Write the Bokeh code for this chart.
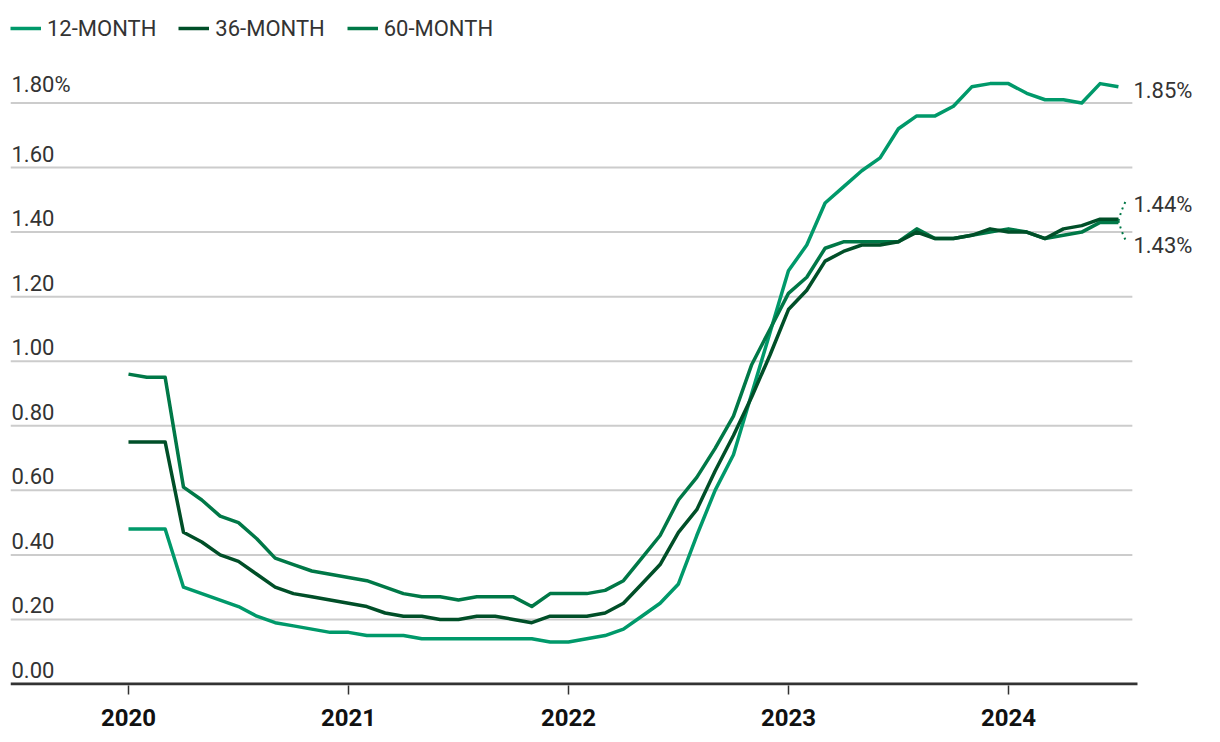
from bokeh.plotting import figure
from bokeh.models import (ColumnDataSource, FixedTicker, Range1d, Legend, LegendItem)
from bokeh.core.properties import value
from bokeh.embed import file_html
from bokeh.resources import INLINE

# ---- data (monthly, Jan 2020 .. Jul 2024) ----
months = list(range(55))
rate_12m = [0.48, 0.48, 0.48, 0.30, 0.28, 0.26, 0.24, 0.21, 0.19, 0.18,
            0.17, 0.16, 0.16, 0.15, 0.15, 0.15, 0.14, 0.14, 0.14, 0.14,
            0.14, 0.14, 0.14, 0.13, 0.13, 0.14, 0.15, 0.17, 0.21, 0.25,
            0.31, 0.46, 0.60, 0.71, 0.90, 1.09, 1.28, 1.36, 1.49, 1.54,
            1.59, 1.63, 1.72, 1.76, 1.76, 1.79, 1.85, 1.86, 1.86, 1.83,
            1.81, 1.81, 1.80, 1.86, 1.85]
rate_36m = [0.75, 0.75, 0.75, 0.47, 0.44, 0.40, 0.38, 0.34, 0.30, 0.28,
            0.27, 0.26, 0.25, 0.24, 0.22, 0.21, 0.21, 0.20, 0.20, 0.21,
            0.21, 0.20, 0.19, 0.21, 0.21, 0.21, 0.22, 0.25, 0.31, 0.37,
            0.47, 0.54, 0.66, 0.77, 0.89, 1.02, 1.16, 1.22, 1.31, 1.34,
            1.36, 1.36, 1.37, 1.40, 1.38, 1.38, 1.39, 1.41, 1.40, 1.40,
            1.38, 1.41, 1.42, 1.44, 1.44]
rate_60m = [0.96, 0.95, 0.95, 0.61, 0.57, 0.52, 0.50, 0.45, 0.39, 0.37,
            0.35, 0.34, 0.33, 0.32, 0.30, 0.28, 0.27, 0.27, 0.26, 0.27,
            0.27, 0.27, 0.24, 0.28, 0.28, 0.28, 0.29, 0.32, 0.39, 0.46,
            0.57, 0.64, 0.73, 0.83, 0.99, 1.10, 1.21, 1.26, 1.35, 1.37,
            1.37, 1.37, 1.37, 1.41, 1.38, 1.38, 1.39, 1.40, 1.41, 1.40,
            1.38, 1.39, 1.40, 1.43, 1.43]

series_names = ["12-MONTH", "36-MONTH", "60-MONTH"]
series_colors = ["#00996a", "#004f28", "#007847"]

year_ticks = [0, 12, 24, 36, 48]
year_labels = ["2020", "2021", "2022", "2023", "2024"]

y_ticks = [0.0, 0.2, 0.4, 0.6, 0.8, 1.0, 1.2, 1.4, 1.6, 1.8]
y_tick_labels = ["0.00", "0.20", "0.40", "0.60", "0.80", "1.00", "1.20", "1.40", "1.60", "1.80%"]

end_labels = ["1.85%", "1.44%", "1.43%"]

FONT = "Roboto"
TEXT_COLOR = "#333333"

# ---- layout constants ----
x_start, x_end = -6.436, 58.75       # frame spans the right-hand label area too
grid_end = 54.76                     # where grid lines stop
axis_end = 55.04                     # where the baseline stops
y_start, y_end = -0.00465, 2.071

p = figure(width=1210, height=738, output_backend="svg", toolbar_location=None,
           x_range=Range1d(x_start, x_end), y_range=Range1d(y_start, y_end),
           min_border_left=10, min_border_right=5, min_border_top=15, min_border_bottom=53)
p.outline_line_color = None
p.background_fill_color = "white"
p.border_fill_color = "white"
p.xgrid.visible = False
p.ygrid.visible = False
p.yaxis.visible = False

# grid lines (stop before the label area)
gy = y_ticks[1:]
p.segment(x0=[x_start] * len(gy), x1=[grid_end] * len(gy), y0=gy, y1=gy,
          line_color="#cccccc", line_width=2)
# baseline
p.segment(x0=[x_start], x1=[axis_end], y0=[0], y1=[0], line_color="#333333", line_width=3)

# x axis (ticks + year labels only)
xa = p.xaxis[0]
xa.ticker = FixedTicker(ticks=year_ticks)
xa.major_label_overrides = {t: l for t, l in zip(year_ticks, year_labels)}
xa.axis_line_color = None
xa.major_tick_line_color = "#333333"
xa.major_tick_line_width = 1.5
xa.major_tick_out = 9
xa.major_tick_in = 0
xa.minor_tick_line_color = None
xa.major_label_text_font = FONT
xa.major_label_text_font_style = "bold"
xa.major_label_text_font_size = "24px"
xa.major_label_text_color = "#111111"
xa.major_label_standoff = 14

# y tick labels (above the grid lines, left-aligned)
ysrc = ColumnDataSource(dict(x=[x_start] * len(y_ticks), y=y_ticks, t=y_tick_labels))
p.text(x="x", y="y", text="t", source=ysrc, x_offset=1, y_offset=-6,
       text_font=value(FONT), text_font_size="22px", text_color=TEXT_COLOR,
       text_align="left", text_baseline="bottom")

# lines
r12 = p.line(months, rate_12m, line_color=series_colors[0], line_width=3.5, line_join="round")
r60 = p.line(months, rate_60m, line_color=series_colors[2], line_width=3.5, line_join="round")
r36 = p.line(months, rate_36m, line_color=series_colors[1], line_width=3.5, line_join="round")

legend = Legend(items=[LegendItem(label=series_names[0], renderers=[r12]),
                       LegendItem(label=series_names[1], renderers=[r36]),
                       LegendItem(label=series_names[2], renderers=[r60])],
                location="top_left", orientation="horizontal")
legend.margin = 0
legend.padding = 2
legend.spacing = 22
legend.glyph_width = 31
legend.glyph_height = 26
legend.label_height = 26
legend.label_standoff = 6
legend.label_text_font = FONT
legend.label_text_font_size = "22px"
legend.label_text_color = TEXT_COLOR
legend.border_line_color = None
legend.background_fill_alpha = 0
p.add_layout(legend)

# dotted connectors from the 36/60 end points to their labels
last = months[-1]
y_mid = (rate_36m[-1] + rate_60m[-1]) / 2
cx = [last, last + 0.12, last + 0.26, last + 0.44]
p.line(cx, [y_mid, y_mid + 0.022, y_mid + 0.044, y_mid + 0.066],
       line_color=series_colors[2], line_width=2, line_dash="2 4")
p.line(cx, [y_mid, y_mid - 0.022, y_mid - 0.044, y_mid - 0.066],
       line_color=series_colors[2], line_width=2, line_dash="2 4")

# end labels
esrc = ColumnDataSource(dict(x=[last] * 3, y=[rate_12m[-1], rate_36m[-1], rate_60m[-1]],
                             t=end_labels, dy=[4, -15, 23]))
p.text(x="x", y="y", text="t", source=esrc, x_offset=15, y_offset="dy",
       text_font=value(FONT), text_font_size="22px", text_color=TEXT_COLOR,
       text_align="left", text_baseline="middle")

open("out.html", "w").write(file_html(p, INLINE))
